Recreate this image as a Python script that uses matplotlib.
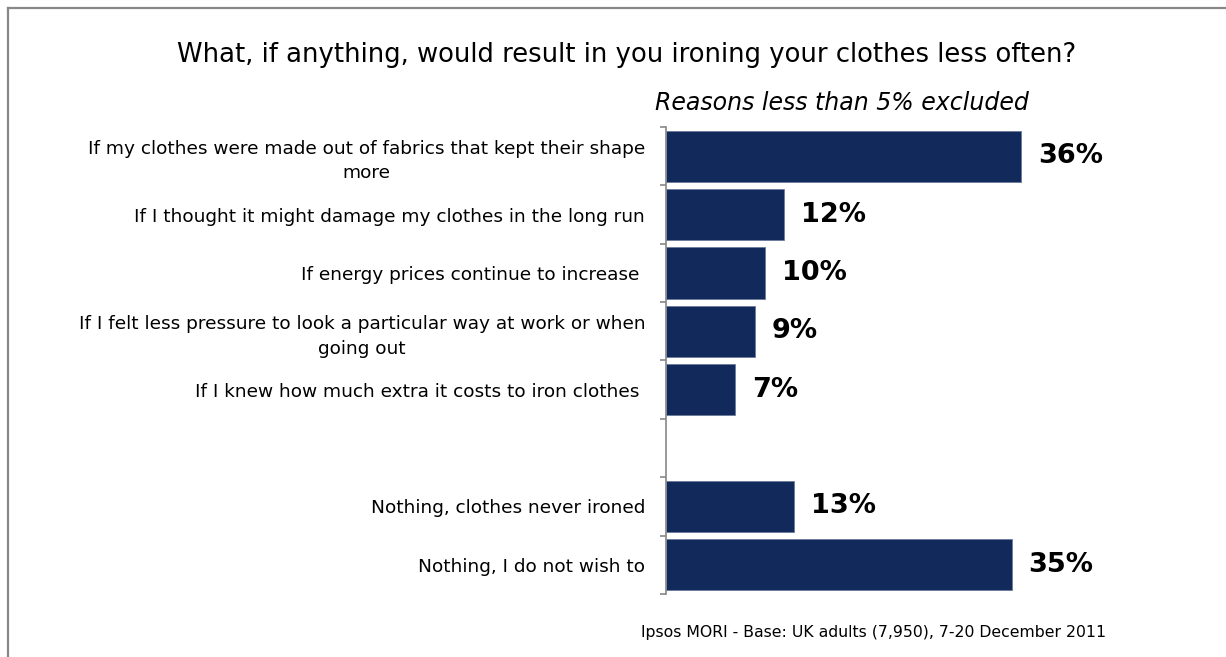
import matplotlib
matplotlib.use('Agg')
import matplotlib.pyplot as plt
from matplotlib.lines import Line2D

# survey answers, top to bottom
reasons = [
    'If my clothes were made out of fabrics that kept their shape\nmore',
    'If I thought it might damage my clothes in the long run',
    'If energy prices continue to increase ',
    'If I felt less pressure to look a particular way at work or when\ngoing out',
    'If I knew how much extra it costs to iron clothes ',
]
reason_pct = [36, 12, 10, 9, 7]

nothing = [
    'Nothing, clothes never ironed',
    'Nothing, I do not wish to',
]
nothing_pct = [13, 35]

title = 'What, if anything, would result in you ironing your clothes less often?'
subtitle = 'Reasons less than 5% excluded'
source = 'Ipsos MORI - Base: UK adults (7,950), 7-20 December 2011'

bar_color = '#12295B'
grey = '#888888'

plt.rcParams['font.family'] = ['DejaVu Sans']

fig = plt.figure(figsize=(12.26, 6.57), dpi=100)
ax = fig.add_axes([0.5432, 0.0959, 0.3222, 0.7108])

# one blank row between the two groups
labels = reasons + [''] + nothing
values = reason_pct + [None] + nothing_pct
ypos = list(range(len(labels)))

for y, v in zip(ypos, values):
    if v is None:
        continue
    ax.barh(y, v, height=0.88, color=bar_color, edgecolor='#6c7a9c', linewidth=0.6)
    ax.text(v + 1.7, y, f'{v}%', va='center', ha='left',
            fontsize=19.5, fontweight='bold', color='black')

ax.set_xlim(0, 40)
ax.set_ylim(len(labels) - 0.5, -0.5)

ax.set_yticks(ypos)
ax.set_yticklabels(labels, fontsize=13.3)
for lab in ax.get_yticklabels():
    lab.set_multialignment('center')
    lab.set_linespacing(1.45)
ax.tick_params(axis='y', which='major', length=0, pad=15)
ax.set_yticks([y - 0.5 for y in ypos] + [len(labels) - 0.5], minor=True)
ax.tick_params(axis='y', which='minor', length=4, width=1.2, color=grey)
ax.set_xticks([])

for side in ['top', 'right', 'bottom']:
    ax.spines[side].set_visible(False)
ax.spines['left'].set_color(grey)
ax.spines['left'].set_linewidth(1.2)

fig.text(0.511, 0.917, title, ha='center', va='center', fontsize=18.6)
fig.text(0.687, 0.843, subtitle, ha='center', va='center', fontsize=17, style='italic')
fig.text(0.902, 0.038, source, ha='right', va='center', fontsize=11.3)

# frame on the top and left edges
fig.add_artist(Line2D([8 / 1226, 1], [1 - 7.5 / 657, 1 - 7.5 / 657], color=grey, lw=1.6,
                      transform=fig.transFigure))
fig.add_artist(Line2D([8 / 1226, 8 / 1226], [0, 1 - 7.5 / 657], color=grey, lw=1.6,
                      transform=fig.transFigure))

fig.savefig('out.png', dpi=100, facecolor='white')
